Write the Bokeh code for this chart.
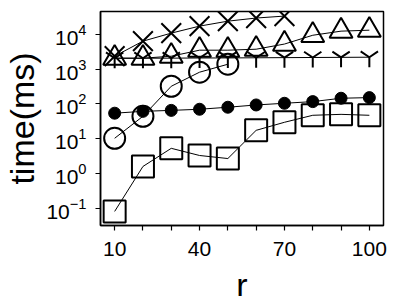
from bokeh.plotting import figure
from bokeh.models import Range1d, FixedTicker, LogTickFormatter
from bokeh.layouts import column
from bokeh.core.properties import value
from bokeh.embed import file_html
from bokeh.resources import INLINE

# data
r = [10, 20, 30, 40, 50, 60, 70, 80, 90, 100]
r_circle = [10, 20, 30, 40, 50]
r_cross = [10, 20, 30, 40, 50, 60, 70]
t_square = [0.082, 1.6, 5.3, 3.3, 2.7, 17.4, 29.6, 47, 50, 47]
t_dot = [54, 61, 65, 70, 80, 93, 104, 116, 145, 151]
t_circle = [10.3, 44, 320, 810, 1370]
t_cross = [2330, 6300, 10700, 17000, 23600, 29000, 33000]
t_triangle = [2040, 2040, 2330, 3470, 3470, 3700, 5200, 9300, 12200, 13000]
t_y = [2040, 2040, 2050, 2070, 2080, 2100, 2120, 2140, 2160, 2180]
x_ticks = [10, 40, 70, 100]
x_minor = [20, 30, 50, 60, 80, 90]
y_ticks = [0.1, 1, 10, 100, 1000, 10000]
x_label = "r"
x_label_pos = 55
y_label = "time(ms)"

FONT = "Liberation Sans"

p = figure(width=392, height=266, x_range=Range1d(5, 105),
           y_range=Range1d(10 ** -1.49, 10 ** 4.65), y_axis_type="log",
           output_backend="svg", toolbar_location=None,
           min_border_left=100, min_border_right=9, min_border_top=11,
           min_border_bottom=41)
p.xgrid.visible = False
p.ygrid.visible = False
p.outline_line_color = "black"
p.outline_line_width = 1.5
p.background_fill_color = "white"
p.border_fill_color = "white"

p.xaxis.ticker = FixedTicker(ticks=x_ticks, minor_ticks=x_minor)
p.yaxis.ticker = FixedTicker(ticks=y_ticks, minor_ticks=[])
p.yaxis.formatter = LogTickFormatter()

for ax in (p.xaxis, p.yaxis):
    ax.axis_line_color = "black"
    ax.axis_line_width = 1.5
    ax.major_tick_line_color = "black"
    ax.major_tick_line_width = 1.2
    ax.minor_tick_line_color = "black"
    ax.minor_tick_line_width = 1.2
    ax.major_tick_in = 0
    ax.major_tick_out = 5
    ax.minor_tick_in = 0
    ax.minor_tick_out = 5
    ax.major_label_text_font = FONT
    ax.major_label_text_font_size = "21px"
    ax.major_label_text_color = "black"
    ax.axis_label_text_font = FONT
    ax.axis_label_text_font_size = "34px"
    ax.axis_label_text_font_style = "normal"
    ax.axis_label_text_color = "black"

p.yaxis.axis_label = y_label
p.xaxis.major_label_standoff = 11
p.yaxis.major_label_standoff = 9
p.yaxis.axis_label_standoff = 2

# squares
p.line(r, t_square, line_color="black", line_width=1)
p.scatter(r, t_square, marker="square", size=22, fill_alpha=0,
          line_color="black", line_width=2)
# filled dots
p.line(r, t_dot, line_color="black", line_width=1)
p.scatter(r, t_dot, marker="circle", size=12, fill_color="black",
          line_color="black")
# open circles
p.line(r_circle, t_circle, line_color="black", line_width=1)
p.scatter(r_circle, t_circle, marker="circle", size=21, fill_alpha=0,
          line_color="black", line_width=2)
# crosses
p.line(r_cross, t_cross, line_color="black", line_width=1)
p.scatter(r_cross, t_cross, marker="x", size=28, line_color="black",
          line_width=2)
# triangles
p.line(r, t_triangle, line_color="black", line_width=1)
p.scatter(r, t_triangle, marker="triangle", size=23, fill_alpha=0,
          line_color="black", line_width=2)
# tri-down (Y)
p.line(r, t_y, line_color="black", line_width=1)
p.scatter(r, t_y, marker="y", size=20, line_color="black", line_width=2)

# strip below the plot carrying the x-axis title
q = figure(width=392, height=30, x_range=p.x_range, y_range=Range1d(0, 30),
           output_backend="svg", toolbar_location=None,
           x_axis_type=None, y_axis_type=None,
           min_border_left=100, min_border_right=9, min_border_top=0,
           min_border_bottom=0)
q.xgrid.visible = False
q.ygrid.visible = False
q.outline_line_color = None
q.background_fill_color = "white"
q.border_fill_color = "white"
q.text(x=[x_label_pos], y=[12], text=[x_label], text_align="center",
       text_baseline="alphabetic", text_font=value(FONT),
       text_font_size="34px", text_color="black")

open("out.html", "w").write(file_html(column(p, q, spacing=0), INLINE))
